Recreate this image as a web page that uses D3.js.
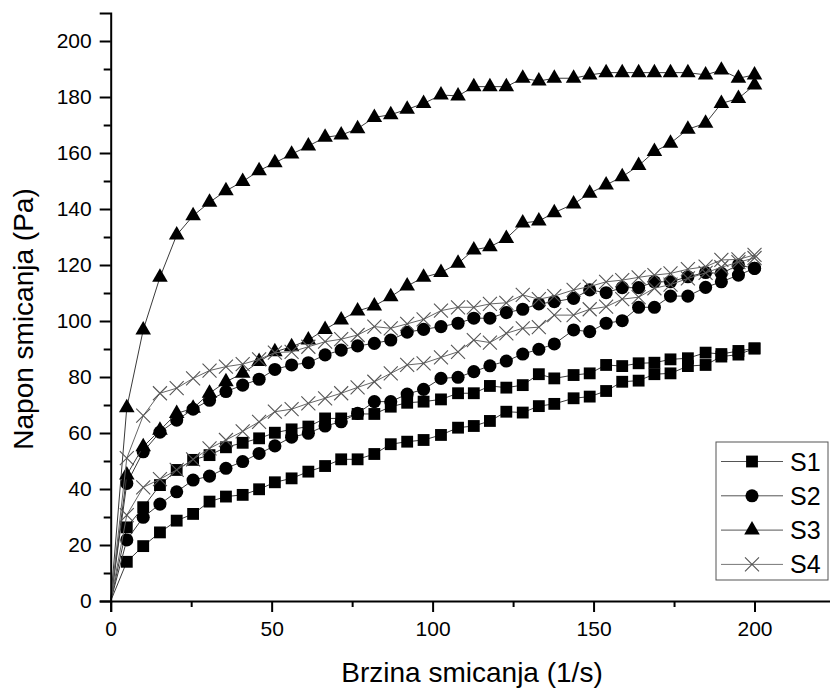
<!DOCTYPE html>
<html>
<head>
<meta charset="utf-8">
<script src="https://cdn.jsdelivr.net/npm/d3@7"></script>
<style>
  body { margin: 0; background: #fff; }
  svg { display: block; font-family: "Liberation Sans", Arial, sans-serif; }
</style>
</head>
<body>
<div id="chart"></div>
<script>
// shear rates (1/s), shared by every series
var rates = [0, 5, 10.1, 15.3, 20.5, 25.6, 30.7, 35.8, 41, 46.1,
             51, 56.2, 61.4, 66.6, 71.6, 76.7, 81.9, 87, 92.1, 97.2,
             102.6, 107.9, 112.8, 117.8, 122.9, 128, 133, 137.8, 143.8, 148.8,
             153.9, 158.9, 164, 168.9, 173.9, 179.3, 184.8, 189.7, 195, 200];

// shear stress (Pa), lower and upper branch of each loop
var s1Low = [0, 14, 19.6, 24.5, 28.7, 31.1, 35.5, 37.3, 37.9, 39.9,
             42.4, 43.8, 46.2, 48.2, 50.6, 50.6, 52.5, 56, 56.9, 57.5,
             59.3, 61.9, 62.5, 64.3, 67.6, 67.3, 69.6, 70.4, 72.4, 73,
             75, 78.3, 78.7, 81, 81.3, 83.9, 84.3, 87.3, 88, 90.2];
var s1Up  = [0, 26.3, 33.5, 41.4, 46.8, 50.4, 52.1, 54.9, 56.5, 58.1,
             60.1, 61.3, 62.3, 65.2, 65.2, 66.8, 66.8, 69.4, 70.8, 71.2,
             72, 74.2, 74.2, 76.8, 76.2, 77.1, 81, 79.5, 80.7, 81.3,
             84.3, 83.9, 84.9, 85.1, 86.3, 86.7, 88.7, 88.2, 89.3, 90.2];

var s2Low = [0, 21.8, 29.9, 34.6, 39, 43.2, 44.6, 47.4, 49.8, 52.7,
             55.4, 58.5, 59.9, 62.5, 64, 67, 71.2, 71.2, 73.9, 75.6,
             79.5, 79.9, 81.9, 84, 85.7, 88.2, 89.9, 91.8, 96.8, 96.2,
             99.2, 100.1, 104.9, 104.9, 108.9, 108.9, 112, 114, 116.4, 118.8];
var s2Up  = [0, 42, 53.3, 60.3, 64.6, 68.5, 71.7, 74.8, 77.1, 79.2,
             82.7, 84.3, 85.1, 87.9, 89.6, 91.1, 92, 93.2, 96, 97,
             98, 99.2, 101, 101, 103, 104.2, 106.1, 106.9, 108.1, 111.1,
             110.1, 111.9, 111.9, 114, 114, 115.8, 117.3, 117, 120, 118.8];

var s3Low = [0, 45, 55.1, 61, 67, 68.8, 74.2, 78.3, 81.3, 85.5,
             89, 90.8, 93.2, 97, 100.4, 103.6, 105.4, 108.7, 112.5, 115.6,
             117.3, 120.6, 125.4, 126.5, 129.5, 135, 135.7, 138.7, 141.8, 145.6,
             148.6, 151.5, 155.5, 160.5, 163.5, 168.5, 170.6, 177.7, 179.5, 184.3];
var s3Up  = [0, 69, 96.8, 115.6, 130.7, 137.6, 142.4, 146.5, 149.8, 153.7,
             156.5, 159.6, 162.5, 165.6, 166.4, 168.7, 172.7, 173.7, 175.6, 177.7,
             180.7, 180.4, 183.7, 183.7, 183.7, 186.7, 185.7, 186.7, 186.7, 187.9,
             188.7, 188.7, 188.7, 188.7, 188.7, 188.7, 187.9, 189.6, 186.7, 187.9];

var s4Low = [0, 30.7, 40.6, 43.5, 46.8, 50.6, 54.5, 57.5, 60.6, 64,
             67.6, 68.5, 70.6, 72.4, 74.2, 76.3, 78.3, 81.3, 84.3, 84.9,
             87, 89, 93.2, 92.3, 95.6, 97.4, 97.8, 102.1, 102.1, 104.2,
             105.1, 107.8, 108.5, 111.7, 113, 115.2, 117.2, 119.2, 121, 122.5];
var s4Up  = [0, 51, 66.2, 74.2, 76, 79.5, 82.3, 83.7, 84.6, 86.3,
             88.7, 89, 90.8, 92.6, 93.5, 95, 98, 97.4, 99, 100.6,
             103.7, 104.9, 104.9, 106.1, 106.5, 109.3, 107.8, 108.9, 111.1, 112.3,
             114, 114.6, 115.6, 116.4, 117, 118.5, 119.4, 121.8, 122, 123.6];

var names = ["S1", "S2", "S3", "S4"];
var xTicks = [0, 50, 100, 150, 200];
var yTicks = [0, 20, 40, 60, 80, 100, 120, 140, 160, 180, 200];

var width = 830, height = 688;

var svg = d3.select("#chart").append("svg")
            .attr("width", width)
            .attr("height", height);

var x = d3.scaleLinear().domain([0, 225]).range([110.7, 835]);
var y = d3.scaleLinear().domain([0, 210]).range([601, 13]);

// one loop = lower branch out, upper branch back
function loop(low, up) {
  var pts = rates.map((r, i) => ({x: r, y: low[i]}));
  for (var i = rates.length - 1; i >= 0; i--) pts.push({x: rates[i], y: up[i]});
  return pts;
}

var series = [
  {name: "S1", shape: "square",   line: "#3a3a3a", fill: "#000", data: loop(s1Low, s1Up)},
  {name: "S2", shape: "circle",   line: "#3a3a3a", fill: "#000", data: loop(s2Low, s2Up)},
  {name: "S3", shape: "triangle", line: "#3a3a3a", fill: "#000", data: loop(s3Low, s3Up)},
  {name: "S4", shape: "cross",    line: "#666",    fill: "#555", data: loop(s4Low, s4Up)}
];

var symbols = {
  square: d3.symbol().type(d3.symbolSquare).size(140),
  circle: d3.symbol().type(d3.symbolCircle).size(135),
  triangle: d3.symbol().type(d3.symbolTriangle).size(105)
};

function drawMarker(g, s, px, py) {
  if (s.shape === "cross") {
    g.append("path")
      .attr("d", "M" + (px - 7) + "," + (py - 7) + "L" + (px + 7) + "," + (py + 7) +
                 "M" + (px - 7) + "," + (py + 7) + "L" + (px + 7) + "," + (py - 7))
      .attr("stroke", s.fill)
      .attr("stroke-width", 1.1)
      .attr("fill", "none");
  } else {
    g.append("path")
      .attr("d", symbols[s.shape]())
      .attr("transform", "translate(" + px + "," + py + ")")
      .attr("fill", s.fill);
  }
}

var line = d3.line().x(d => x(d.x)).y(d => y(d.y));

series.forEach(function(s) {
  var g = svg.append("g");
  g.append("path")
    .datum(s.data)
    .attr("d", line)
    .attr("fill", "none")
    .attr("stroke", s.line)
    .attr("stroke-width", 1);
  s.data.forEach(function(d) {
    if (d.x === 0) return;
    drawMarker(g, s, x(d.x), y(d.y));
  });
});

// axes
var xAxis = svg.append("g")
  .attr("transform", "translate(0," + y(0) + ")")
  .call(d3.axisBottom(x).tickValues(xTicks).tickSize(11).tickPadding(9).tickFormat(d3.format("d")));
xAxis.append("g")
  .call(d3.axisBottom(x).tickValues([25, 75, 125, 175, 225]).tickSize(6).tickFormat(""))
  .select(".domain").remove();

var yAxis = svg.append("g")
  .attr("transform", "translate(" + x(0) + ",0)")
  .call(d3.axisLeft(y).tickValues(yTicks).tickSize(11).tickPadding(8).tickFormat(d3.format("d")));
yAxis.append("g")
  .call(d3.axisLeft(y).tickValues(d3.range(10, 210, 20)).tickSize(7).tickFormat(""))
  .select(".domain").remove();

svg.selectAll(".domain").attr("stroke", "#000").attr("stroke-width", 2);
svg.selectAll(".tick line").attr("stroke", "#000").attr("stroke-width", 2);
svg.selectAll(".tick text")
  .attr("font-size", 21)
  .attr("font-family", "'Liberation Sans', Arial, sans-serif")
  .attr("fill", "#000");

svg.append("text")
  .attr("x", 472)
  .attr("y", 682)
  .attr("text-anchor", "middle")
  .attr("font-size", 28)
  .text("Brzina smicanja (1/s)");

svg.append("text")
  .attr("transform", "translate(33,319) rotate(-90)")
  .attr("text-anchor", "middle")
  .attr("font-size", 28)
  .text("Napon smicanja (Pa)");

// legend
var legend = svg.append("g").attr("transform", "translate(716,442)");
legend.append("rect")
  .attr("width", 112)
  .attr("height", 138)
  .attr("fill", "#fff")
  .attr("stroke", "#555")
  .attr("stroke-width", 1);

series.forEach(function(s, i) {
  var ly = 19.5 + i * 34.3;
  legend.append("line")
    .attr("x1", 5).attr("x2", 67)
    .attr("y1", ly).attr("y2", ly)
    .attr("stroke", s.line === "#666" ? "#777" : "#555")
    .attr("stroke-width", 1);
  drawMarker(legend, s, 36, ly);
  legend.append("text")
    .attr("x", 74)
    .attr("y", ly)
    .attr("dy", "0.36em")
    .attr("font-size", 25)
    .text(names[i]);
});
</script>
</body>
</html>
